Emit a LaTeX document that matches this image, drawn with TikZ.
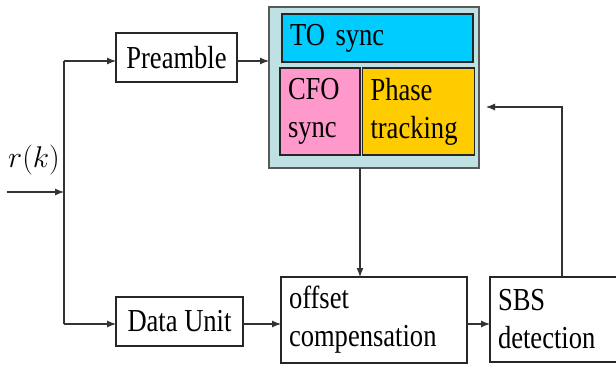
\documentclass[tikz,border=0pt]{standalone}
\usepackage{fix-cm}
\usepackage{fontspec}
\setmainfont[FakeStretch=0.83]{Liberation Serif}
\usetikzlibrary{arrows.meta,calc}
\definecolor{tealbg}{HTML}{BFE1E3}
\definecolor{tocol}{HTML}{00CCFF}
\definecolor{cfocol}{HTML}{FF99CC}
\definecolor{phcol}{HTML}{FFCC00}
\begin{document}
\begin{tikzpicture}[x=1pt,y=-1pt,
  every node/.style={font=\fontsize{32}{38}\selectfont},
  blk/.style={draw=black!85,line width=1.1pt,fill=white,inner sep=0pt,outer sep=0pt},
  lblk/.style={blk,align=left,inner xsep=8pt},
  arr/.style={draw=black!80,line width=1.1pt,-{Latex[length=9pt,width=7pt]}},
  ln/.style={draw=black!80,line width=1.1pt}]
\useasboundingbox (0,0) rectangle (616,367);
% big sync box
\node[blk,draw=black!65,fill=tealbg,minimum width=210pt,minimum height=161pt] (sync) at (374,87.5) {};
\node[lblk,fill=tocol,minimum width=191pt,minimum height=48pt,text width=175pt] (to) at (377.5,38) {TO sync};
\node[lblk,fill=cfocol,minimum width=76pt,minimum height=87pt,text width=64pt] (cfo) at (320,111.5) {CFO\\sync};
\node[lblk,fill=phcol,minimum width=109pt,minimum height=87pt,text width=96pt] (ph) at (418.5,111.5) {Phase\\tracking};
% other blocks
\node[blk,minimum width=121pt,minimum height=49pt] (pre) at (176.5,57.5) {Preamble};
\node[blk,minimum width=127pt,minimum height=49pt] (du) at (179.5,321.5) {Data Unit};
\node[lblk,minimum width=184pt,minimum height=86pt,text width=170pt] (oc) at (374,320) {offset\\compensation};
\node[lblk,minimum width=129pt,minimum height=85pt,text width=115pt] (sbs) at (555.5,319.5) {SBS\\detection};
% input
\node[inner sep=0pt,anchor=base] (rk) at (34,167.5) {\fontsize{30}{30}\selectfont$r(k)$};
\coordinate (in) at (7,192);
\coordinate (j) at (64,192);
\coordinate (jt) at (64,61);
\coordinate (jb) at (64,324);
\draw[arr] (in) -- (j);
\draw[ln] (jt) -- (jb);
\draw[arr] (jt) -- (jt -| pre.west);
\draw[arr] (jb) -- (jb -| du.west);
\draw[arr] ([yshift=-3.5pt]pre.east) -- ([yshift=-3.5pt]pre.east -| sync.west);
\draw[arr] (sync.south -| cfo.east) -- (oc.north -| cfo.east);
\draw[arr] ([yshift=-2.5pt]du.east) -- ([yshift=-2.5pt]du.east -| oc.west);
\draw[arr] ([yshift=-4pt]oc.east) -- ([yshift=-4pt]oc.east -| sbs.west);
\coordinate (fb) at (486,107);
\draw[arr] (sbs.north -| 562,0) -- (562,107) -- (fb);
\end{tikzpicture}
\end{document}
